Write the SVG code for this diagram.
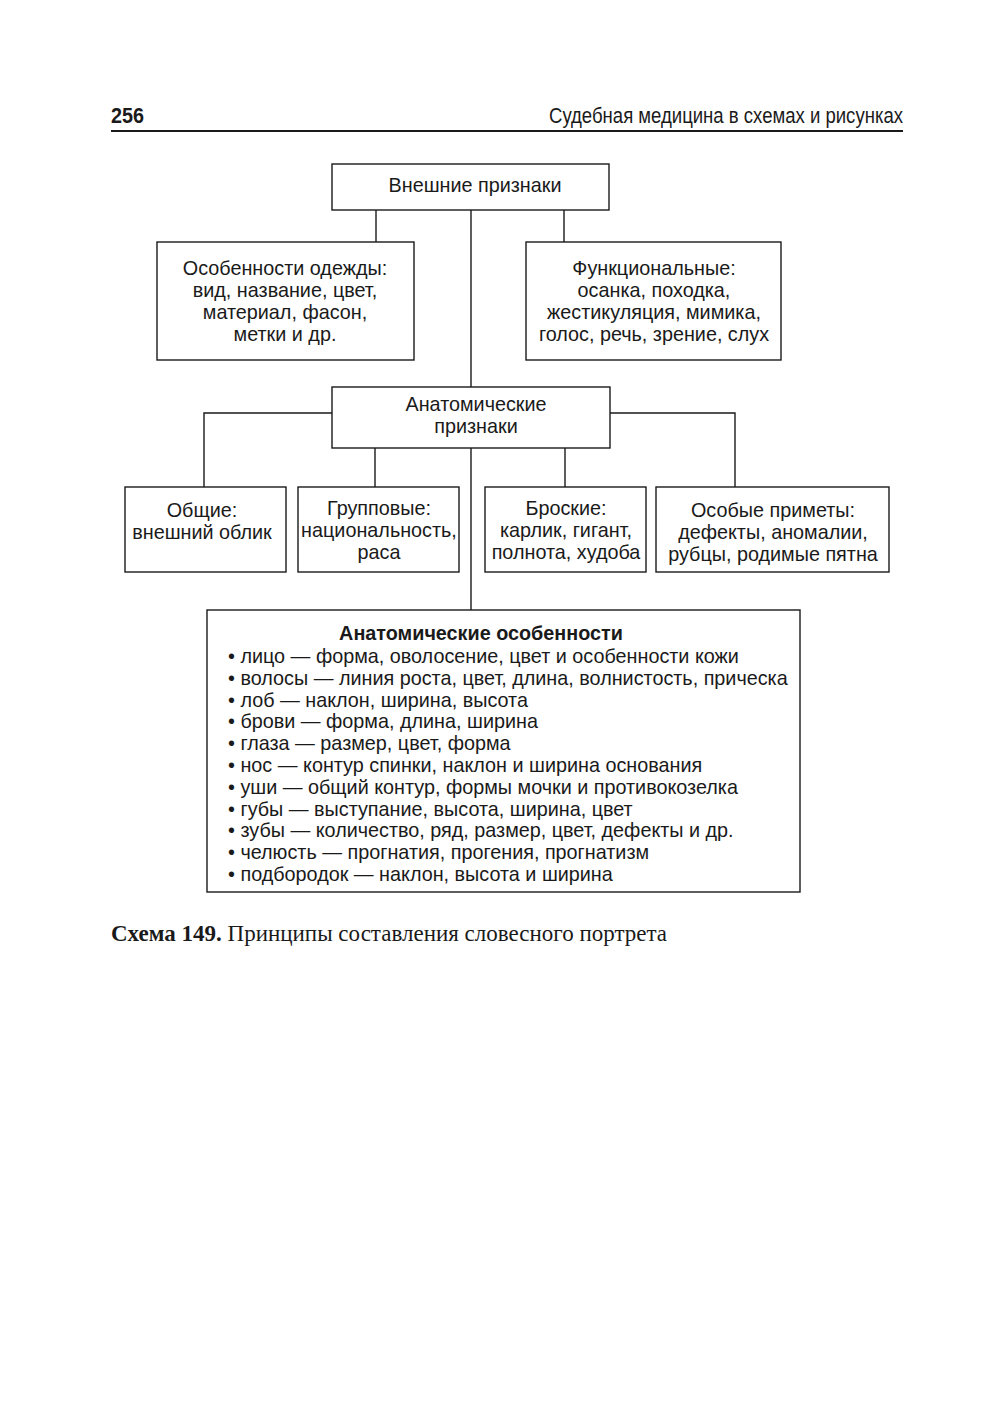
<svg xmlns="http://www.w3.org/2000/svg" width="1000" height="1420" viewBox="0 0 1000 1420">
<style>
.b{fill:#fff;stroke:#1a1a1a;stroke-width:1.4}
.c{fill:none;stroke:#1a1a1a;stroke-width:1.4}
.t{font-family:"Liberation Sans",Arial,sans-serif;font-size:19.8px;fill:#1a1a1a;text-anchor:middle}
.l{font-family:"Liberation Sans",Arial,sans-serif;font-size:19.8px;fill:#1a1a1a}
.h{font-family:"Liberation Sans",Arial,sans-serif;font-size:22px;fill:#1a1a1a}
.cap{font-family:"Liberation Serif","Times New Roman",serif;font-size:23px;fill:#1a1a1a}
</style>
<rect width="1000" height="1420" fill="#fff"/>
<g id="header">
<text class="h" x="111" y="123" font-weight="bold" textLength="33" lengthAdjust="spacingAndGlyphs">256</text>
<text class="h" x="903" y="123" text-anchor="end" textLength="354" lengthAdjust="spacingAndGlyphs">Судебная медицина в схемах и рисунках</text>
<line x1="111" y1="131" x2="903" y2="131" stroke="#1a1a1a" stroke-width="2"/>
</g>
<g id="connectors">
<polyline class="c" points="376,210 376,242"/>
<polyline class="c" points="564,210 564,242"/>
<polyline class="c" points="471,210 471,387"/>
<polyline class="c" points="332,413 204,413 204,487"/>
<polyline class="c" points="610,413 735,413 735,487"/>
<polyline class="c" points="375,448 375,487"/>
<polyline class="c" points="565,448 565,487"/>
<polyline class="c" points="471,448 471,610"/>
</g>
<g id="n-vneshnie">
<rect class="b" x="332" y="164" width="277" height="46"/>
<text class="t" x="475" y="192">Внешние признаки</text>
</g>
<g id="n-odezhda">
<rect class="b" x="157" y="242" width="257" height="118"/>
<text class="t" x="285" y="275">Особенности одежды:</text>
<text class="t" x="285" y="297">вид, название, цвет,</text>
<text class="t" x="285" y="319">материал, фасон,</text>
<text class="t" x="285" y="341">метки и др.</text>
</g>
<g id="n-funkc">
<rect class="b" x="526" y="242" width="255" height="118"/>
<text class="t" x="654" y="275">Функциональные:</text>
<text class="t" x="654" y="297">осанка, походка,</text>
<text class="t" x="654" y="319">жестикуляция, мимика,</text>
<text class="t" x="654" y="341">голос, речь, зрение, слух</text>
</g>
<g id="n-anat">
<rect class="b" x="332" y="387" width="278" height="61"/>
<text class="t" x="476" y="411">Анатомические</text>
<text class="t" x="476" y="433">признаки</text>
</g>
<g id="n-obshie">
<rect class="b" x="125" y="487" width="161" height="85"/>
<text class="t" x="202" y="517">Общие:</text>
<text class="t" x="202" y="539">внешний облик</text>
</g>
<g id="n-grupp">
<rect class="b" x="298" y="487" width="161" height="85"/>
<text class="t" x="379" y="515">Групповые:</text>
<text class="t" x="379" y="537">национальность,</text>
<text class="t" x="379" y="559">раса</text>
</g>
<g id="n-broskie">
<rect class="b" x="485" y="487" width="161" height="85"/>
<text class="t" x="566" y="515">Броские:</text>
<text class="t" x="566" y="537">карлик, гигант,</text>
<text class="t" x="566" y="559">полнота, худоба</text>
</g>
<g id="n-osobye">
<rect class="b" x="656" y="487" width="233" height="85"/>
<text class="t" x="773" y="517">Особые приметы:</text>
<text class="t" x="773" y="539">дефекты, аномалии,</text>
<text class="t" x="773" y="561">рубцы, родимые пятна</text>
</g>
<g id="n-osobennosti">
<rect class="b" x="207" y="610" width="593" height="282"/>
<text class="t" x="481" y="640" font-weight="bold">Анатомические особенности</text>
<text class="l" x="228" y="663">• лицо — форма, оволосение, цвет и особенности кожи</text>
<text class="l" x="228" y="685">• волосы — линия роста, цвет, длина, волнистость, прическа</text>
<text class="l" x="228" y="707">• лоб — наклон, ширина, высота</text>
<text class="l" x="228" y="728">• брови — форма, длина, ширина</text>
<text class="l" x="228" y="750">• глаза — размер, цвет, форма</text>
<text class="l" x="228" y="772">• нос — контур спинки, наклон и ширина основания</text>
<text class="l" x="228" y="794">• уши — общий контур, формы мочки и противокозелка</text>
<text class="l" x="228" y="816">• губы — выступание, высота, ширина, цвет</text>
<text class="l" x="228" y="837">• зубы — количество, ряд, размер, цвет, дефекты и др.</text>
<text class="l" x="228" y="859">• челюсть — прогнатия, прогения, прогнатизм</text>
<text class="l" x="228" y="881">• подбородок — наклон, высота и ширина</text>
</g>
<g id="caption">
<text class="cap" x="111" y="941"><tspan font-weight="bold">Схема 149.</tspan> Принципы составления словесного портрета</text>
</g>
</svg>
